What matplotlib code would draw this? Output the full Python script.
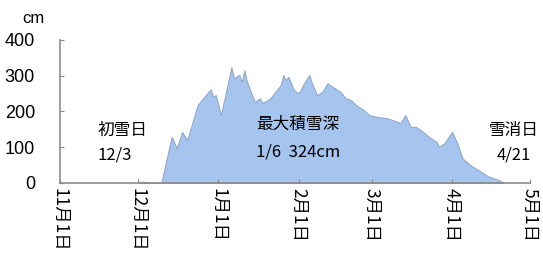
import matplotlib
matplotlib.use("Agg")
import matplotlib.pyplot as plt
import matplotlib.dates as mdates
import numpy as np

plt.rcParams['font.family'] = ['Liberation Sans', 'Noto Sans CJK JP', 'DejaVu Sans']

# snow depth (cm)
dates = ["2012-12-01", "2012-12-03", "2012-12-05", "2012-12-10", "2012-12-14",
         "2012-12-16", "2012-12-18", "2012-12-20", "2012-12-24", "2012-12-29",
         "2012-12-30", "2012-12-31", "2013-01-02", "2013-01-06", "2013-01-07",
         "2013-01-09", "2013-01-10", "2013-01-11", "2013-01-12", "2013-01-15",
         "2013-01-17", "2013-01-18", "2013-01-20", "2013-01-21", "2013-01-25",
         "2013-01-26", "2013-01-27", "2013-01-28", "2013-01-30", "2013-02-01",
         "2013-02-03", "2013-02-05", "2013-02-06", "2013-02-08", "2013-02-10",
         "2013-02-12", "2013-02-14", "2013-02-17", "2013-02-19", "2013-02-21",
         "2013-02-23", "2013-02-26", "2013-02-28", "2013-03-03", "2013-03-07",
         "2013-03-11", "2013-03-12", "2013-03-14", "2013-03-16", "2013-03-18",
         "2013-03-20", "2013-03-23", "2013-03-26", "2013-03-27", "2013-03-29",
         "2013-04-01", "2013-04-03", "2013-04-05", "2013-04-08", "2013-04-12",
         "2013-04-15", "2013-04-19", "2013-04-21"]
depth = [0, 4, 0, 0, 129,
         97, 143, 120, 218, 262,
         241, 246, 190, 324, 293,
         302, 283, 316, 283, 227,
         237, 223, 232, 237, 274,
         302, 288, 297, 260, 251,
         279, 302, 279, 246, 255,
         279, 269, 255, 237, 232,
         218, 204, 190, 185, 181,
         171, 167, 190, 157, 157,
         148, 129, 115, 101, 111,
         143, 111, 69, 50, 32,
         18, 8, 0]

month_ticks = ["2012-11-01", "2012-12-01", "2013-01-01", "2013-02-01",
               "2013-03-01", "2013-04-01", "2013-05-01"]
month_labels = ["11月1日", "12月1日", "1月1日", "2月1日", "3月1日", "4月1日", "5月1日"]

x = mdates.date2num(np.array(dates, dtype="datetime64[D]"))
xt = mdates.date2num(np.array(month_ticks, dtype="datetime64[D]"))

fig = plt.figure(figsize=(5.43, 2.58), dpi=100)
ax = fig.add_axes([0.1105, 0.291, 0.8655, 0.554])

ax.fill_between(x, depth, 0, color="#a6c5ee", edgecolor="#8aa3c6", linewidth=0.7)

ax.set_xlim(xt[0], xt[-1])
ax.set_ylim(0, 400)
ax.set_yticks([0, 100, 200, 300, 400])
ax.set_xticks(xt)
jp = ['Noto Sans CJK JP', 'DejaVu Sans']
ax.set_xticklabels(month_labels, rotation=-90, fontsize=12.5, family=jp)
ax.tick_params(axis='y', direction='in', length=3, labelsize=13, pad=18,
               color='#888888')
ax.tick_params(axis='x', direction='in', length=3, pad=4, color='#888888')

for s in ['top', 'right']:
    ax.spines[s].set_visible(False)
for s in ['left', 'bottom']:
    ax.spines[s].set_color('#8c8c8c')
    ax.spines[s].set_linewidth(1.2)

ax.text(0.079, 0.37, "初雪日", transform=ax.transAxes, fontsize=12, family=jp, va='center')
ax.text(0.079, 0.196, "12/3", transform=ax.transAxes, fontsize=12, family=jp, va='center')
ax.text(0.417, 0.41, "最大積雪深", transform=ax.transAxes, fontsize=12, family=jp, va='center')
ax.text(0.417, 0.217, "1/6  324cm", transform=ax.transAxes, fontsize=12, family=jp, va='center')
ax.text(0.913, 0.37, "雪消日", transform=ax.transAxes, fontsize=12, family=jp, va='center',
        clip_on=False)
ax.text(0.928, 0.196, "4/21", transform=ax.transAxes, fontsize=12, family=jp, va='center')

fig.text(0.061, 0.93, "cm", fontsize=12, ha='center', va='center')

fig.savefig("out.png", dpi=100)
